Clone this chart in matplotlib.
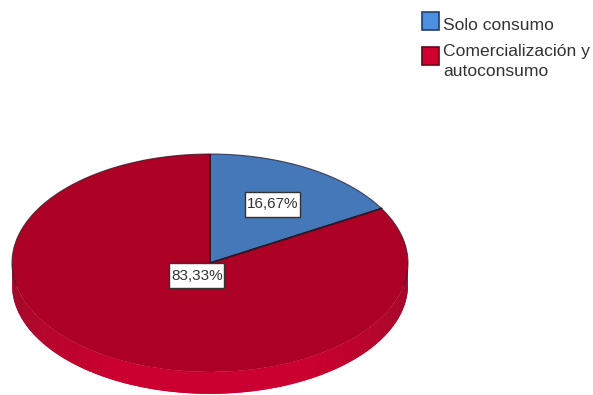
import numpy as np
import matplotlib
matplotlib.use('Agg')
import matplotlib.pyplot as plt
from matplotlib.patches import Rectangle

plt.rcParams['font.family'] = ['Liberation Sans', 'DejaVu Sans']

categorias = ['Solo consumo', 'Comercialización y\nautoconsumo']
valores = [16.67, 83.33]
colores = ['#4478B8', '#AD0025']
bordes_leyenda = ['#1F3F66', '#6A0018']
colores_leyenda = ['#4F8FE0', '#D0002E']

W, H = 593, 395
fig = plt.figure(figsize=(W / 100, H / 100), dpi=100)

# el eje cubre la cara superior de la elipse; el aspecto se libera despues del pie
ax = fig.add_axes([12 / W, 1 - 372 / H, 396 / W, 218 / H])

# canto inferior de la torta, con sombra hacia los lados
grosor = 0.2
t = np.linspace(np.pi, 2 * np.pi, 121)
oscuro = np.array(matplotlib.colors.to_rgb('#9C0C2A'))
claro = np.array(matplotlib.colors.to_rgb('#CC0030'))
for a, b in zip(t[:-1], t[1:]):
    # cada tramo se solapa con el siguiente para que no queden costuras
    s = np.linspace(a, min(b + 0.03, 2 * np.pi), 6)
    x = np.r_[np.cos(s), np.cos(s[::-1])]
    y = np.r_[np.sin(s), np.sin(s[::-1]) - grosor]
    mezcla = min(1, ((a + b) / 2 - np.pi) / 1.1, (2 * np.pi - (a + b) / 2) / 1.1)
    ax.fill(x, y, color=oscuro + (claro - oscuro) * mezcla, lw=0, clip_on=False)

wedges, _ = ax.pie(valores, colors=colores, startangle=90, counterclock=False,
                   radius=1, center=(0, 0), wedgeprops={'linewidth': 0})
ax.set_aspect('auto')
ax.set_xlim(-1, 1)
ax.set_ylim(-1, 1)

# contorno: radios y solo la mitad superior del borde
linea = '#2A1A2A'
for w in wedges:
    w.set_clip_on(False)
    for ang in (w.theta1, w.theta2):
        r = np.deg2rad(ang)
        ax.plot([0, np.cos(r)], [0, np.sin(r)], color=linea, lw=1.1, zorder=3)
s = np.deg2rad(np.linspace(-12, 192, 200))
ax.plot(np.cos(s), np.sin(s), color=linea, lw=0.8, alpha=0.75, zorder=3, clip_on=False)

# etiquetas con porcentaje, coma decimal
posiciones = [(0.316, 0.537), (-0.066, -0.119)]
ancho, alto = 55 / 198, 25 / 109
for v, (px, py) in zip(valores, posiciones):
    ax.add_patch(Rectangle((px - ancho / 2, py - alto / 2), ancho, alto, fc='white',
                           ec='#333333', lw=1, zorder=5))
    ax.text(px, py, f'{v:.2f}%'.replace('.', ','), ha='center', va='center',
            fontsize=11, color='#333333', zorder=6)

# leyenda: cuadros y textos
y_cuadros = [12, 47]
y_textos = [25.5, 61.5]
for cat, c, e, yc, yt in zip(categorias, colores_leyenda, bordes_leyenda, y_cuadros, y_textos):
    fig.add_artist(Rectangle((422 / W, 1 - (yc + 18) / H), 17 / W, 18 / H, fc=c, ec=e, lw=1.2,
                             transform=fig.transFigure))
    fig.text(443 / W, 1 - yt / H, cat, ha='left', va='center', fontsize=12.6,
             color='#333333', linespacing=1.38)

fig.savefig('out.png', dpi=100)
